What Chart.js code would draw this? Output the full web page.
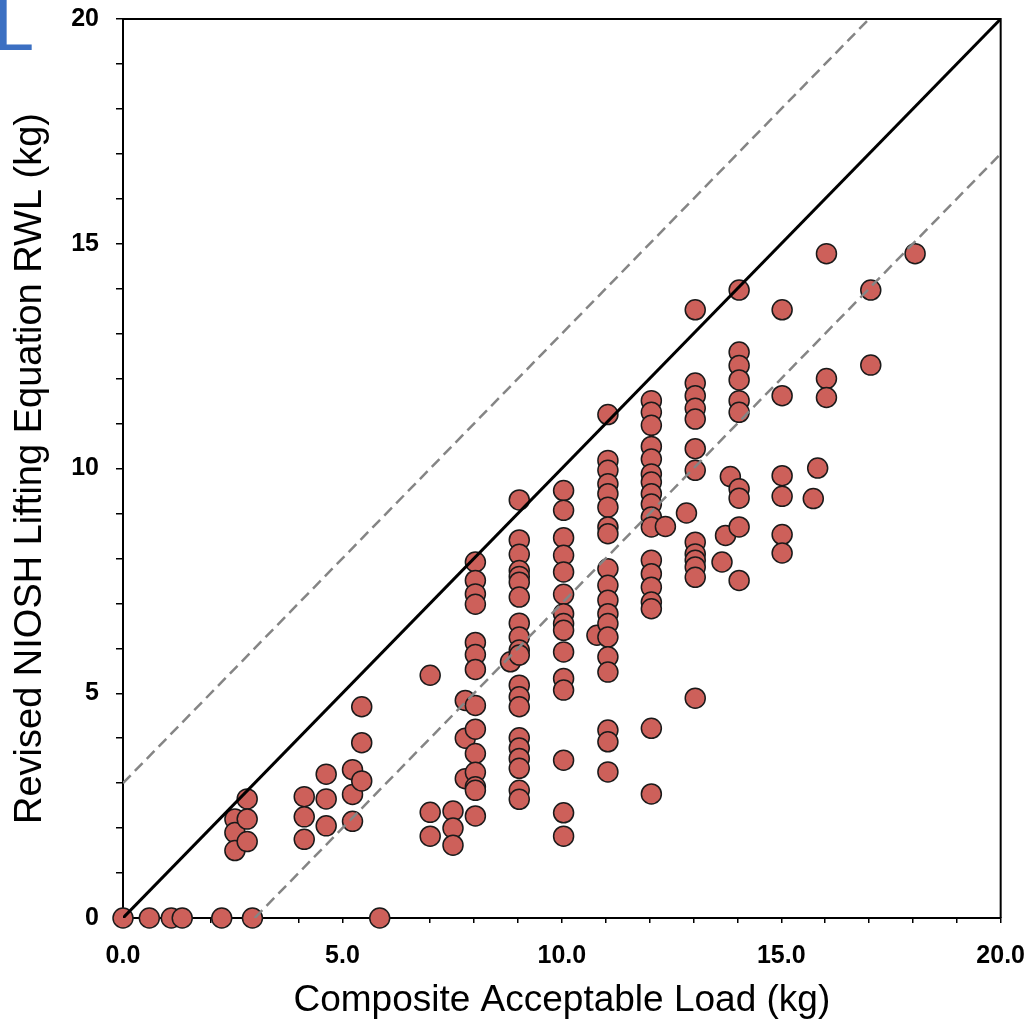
<!DOCTYPE html>
<html lang="en">
<head>
<meta charset="UTF-8">
<title>RWL vs Composite Acceptable Load</title>
<style>
    body{ margin:0; background:#fff; overflow:hidden; }
    #wrap{ position:relative; width:1032px; height:1023px; overflow:hidden; }
    #box{ position:absolute; left:0; top:-13px; width:1043px; height:1036px; }
    #corner{ position:absolute; left:-6px; top:-16px; font:72px "Liberation Sans", Arial, sans-serif; color:#3b6fc2; }
</style>
</head>
<body>
<div id="wrap">
    <div id="box"><canvas id="myc"></canvas></div>
    <div id="corner">L</div>
</div>
<script src="https://cdn.jsdelivr.net/npm/chart.js"></script>
<script>
// composite acceptable load (x) and revised NIOSH RWL (y)
const composite = [
    0, 0.6, 1.1, 1.35, 2.25, 2.95, 5.85,
    2.55, 2.55, 2.55,
    2.83, 2.83, 2.83,
    4.13, 4.13, 4.13,
    4.63, 4.63, 4.63,
    5.23, 5.23, 5.23,
    5.44, 5.44, 5.44,
    7.0, 7.0, 7.0,
    7.52, 7.52, 7.52,
    7.8, 7.8, 7.8,
    8.03, 8.03, 8.03, 8.03, 8.03, 8.03, 8.03, 8.03, 8.03, 8.03, 8.03, 8.03, 8.03, 8.03,
    8.83,
    9.03, 9.03, 9.03, 9.03, 9.03, 9.03, 9.03, 9.03, 9.03, 9.03, 9.03, 9.03, 9.03, 9.03, 9.03, 9.03, 9.03, 9.03, 9.03, 9.03,
    10.04, 10.04, 10.04, 10.04, 10.04, 10.04, 10.04, 10.04, 10.04, 10.04, 10.04, 10.04, 10.04, 10.04, 10.04,
    10.8,
    11.05, 11.05, 11.05, 11.05, 11.05, 11.05, 11.05, 11.05, 11.05, 11.05, 11.05, 11.05, 11.05, 11.05, 11.05, 11.05, 11.05, 11.05, 11.05,
    12.04, 12.04, 12.04, 12.04, 12.04, 12.04, 12.04, 12.04, 12.04, 12.04, 12.04, 12.04, 12.04, 12.04, 12.04, 12.04, 12.04, 12.04,
    12.36, 12.84,
    13.04, 13.04, 13.04, 13.04, 13.04, 13.04, 13.04, 13.04, 13.04, 13.04, 13.04, 13.04, 13.04,
    13.65, 13.73, 13.84,
    14.04, 14.04, 14.04, 14.04, 14.04, 14.04, 14.04, 14.04, 14.04, 14.04,
    15.02, 15.02, 15.02, 15.02, 15.02, 15.02,
    15.73, 15.83,
    16.03, 16.03, 16.03,
    17.04, 17.04,
    18.05
];
const rwl = [
    0, 0, 0, 0, 0, 0, 0,
    2.2, 1.9, 1.5,
    2.65, 2.2, 1.7,
    2.7, 2.25, 1.75,
    3.2, 2.65, 2.05,
    3.3, 2.75, 2.15,
    4.7, 3.9, 3.05,
    5.4, 2.35, 1.82,
    2.38, 2.0, 1.62,
    4.84, 4.0, 3.1,
    7.92, 7.51, 7.21, 6.98, 6.13, 5.86, 5.53, 4.73, 4.2, 3.66, 3.24, 2.92, 2.84, 2.27,
    5.7,
    9.3, 8.41, 8.09, 7.73, 7.6, 7.47, 7.14, 6.56, 6.25, 5.96, 5.85, 5.18, 4.92, 4.7, 4.01, 3.78, 3.55, 3.33, 2.84, 2.64,
    9.51, 9.07, 8.46, 8.07, 7.7, 7.2, 6.77, 6.55, 6.4, 5.92, 5.33, 5.07, 3.51, 2.34, 1.82,
    6.29,
    11.2, 10.18, 9.96, 9.66, 9.44, 9.14, 8.7, 8.55, 7.77, 7.4, 7.07, 6.77, 6.55, 6.25, 5.81, 5.47, 4.18, 3.92, 3.25,
    11.51, 11.25, 10.96, 10.49, 10.21, 9.88, 9.7, 9.44, 9.21, 8.92, 8.7, 7.96, 7.66, 7.36, 7.03, 6.88, 4.22, 2.76,
    8.71, 9.01,
    13.53, 11.9, 11.62, 11.34, 11.1, 10.44, 9.96, 8.36, 8.1, 7.96, 7.81, 7.58, 4.89,
    7.92, 8.51, 9.82,
    13.97, 12.59, 12.29, 11.97, 11.51, 11.25, 9.55, 9.34, 8.7, 7.51,
    13.53, 11.62, 9.84, 9.38, 8.53, 8.12,
    9.33, 10.01,
    14.78, 12.0, 11.58,
    13.97, 12.3,
    14.78
];
// reference lines: identity and +/- 3 kg
const identityLine = [{x: 0, y: 0}, {x: 20, y: 20}];
const upperLine = [{x: 0, y: 3}, {x: 17, y: 20}];
const lowerLine = [{x: 3, y: 0}, {x: 20, y: 17}];

const points = composite.map(function (c, i) { return {x: c, y: rwl[i]}; });
const fontFam = '"Liberation Sans", Arial, sans-serif';

// top and right edges of the plot box
const boxEdges = {
    id: 'boxEdges',
    beforeDatasetsDraw: function (chart) {
        const a = chart.chartArea, c = chart.ctx;
        c.save();
        c.strokeStyle = '#000';
        c.lineWidth = 2;
        c.beginPath();
        c.moveTo(a.left, a.top);
        c.lineTo(a.right, a.top);
        c.lineTo(a.right, a.bottom);
        c.stroke();
        c.restore();
    }
};

const ctx = document.getElementById('myc').getContext('2d');
const myChart = new Chart(ctx, {
    type: 'scatter',
    data: {
        datasets: [
            {
                type: 'line', data: identityLine, borderColor: '#000', borderWidth: 3,
                pointRadius: 0, fill: false, order: 0
            },
            {
                type: 'line', data: upperLine, borderColor: '#858585', borderWidth: 2.5,
                borderDash: [11, 6], pointRadius: 0, fill: false, order: 0
            },
            {
                type: 'line', data: lowerLine, borderColor: '#858585', borderWidth: 2.5,
                borderDash: [11, 6], pointRadius: 0, fill: false, order: 0
            },
            {
                label: 'RWL', data: points, backgroundColor: '#cd605a', borderColor: '#1a1a1a',
                borderWidth: 1.5, pointRadius: 10, pointHoverRadius: 10, order: 1, clip: false
            }
        ]
    },
    plugins: [boxEdges],
    options: {
        responsive: true,
        maintainAspectRatio: false,
        animation: false,
        layout: { padding: { left: 0, right: 32, top: 10, bottom: 0 } },
        plugins: { legend: { display: false }, tooltip: { enabled: false } },
        scales: {
            x: {
                type: 'linear', min: 0, max: 20,
                afterFit: function (s) { s.height = 105; },
                border: { display: true, color: '#000', width: 2 },
                grid: { drawOnChartArea: false, drawTicks: true, tickLength: 5, color: '#000', lineWidth: 1.5 },
                ticks: {
                    stepSize: 1, autoSkip: false, maxRotation: 0, padding: 18, color: '#000',
                    font: { family: fontFam, size: 25, weight: 'bold' },
                    callback: function (v) { return v % 5 === 0 ? v.toFixed(1) : ''; }
                },
                title: {
                    display: true, text: 'Composite Acceptable Load (kg)', color: '#000',
                    font: { family: fontFam, size: 37 }, padding: { top: 0, bottom: 0 }
                }
            },
            y: {
                type: 'linear', min: 0, max: 20,
                afterFit: function (s) { s.width = 123; },
                border: { display: true, color: '#000', width: 2 },
                grid: { drawOnChartArea: false, drawTicks: true, tickLength: 7, color: '#000', lineWidth: 1.5 },
                ticks: {
                    stepSize: 1, autoSkip: false, padding: 17, color: '#000',
                    font: { family: fontFam, size: 25, weight: 'bold' },
                    callback: function (v) { return v % 5 === 0 ? String(v) : ''; }
                },
                title: {
                    display: true, text: 'Revised NIOSH Lifting Equation RWL (kg)', color: '#000',
                    font: { family: fontFam, size: 38 }, padding: { top: 8, bottom: 0 }
                }
            }
        }
    }
});
</script>
</body>
</html>
